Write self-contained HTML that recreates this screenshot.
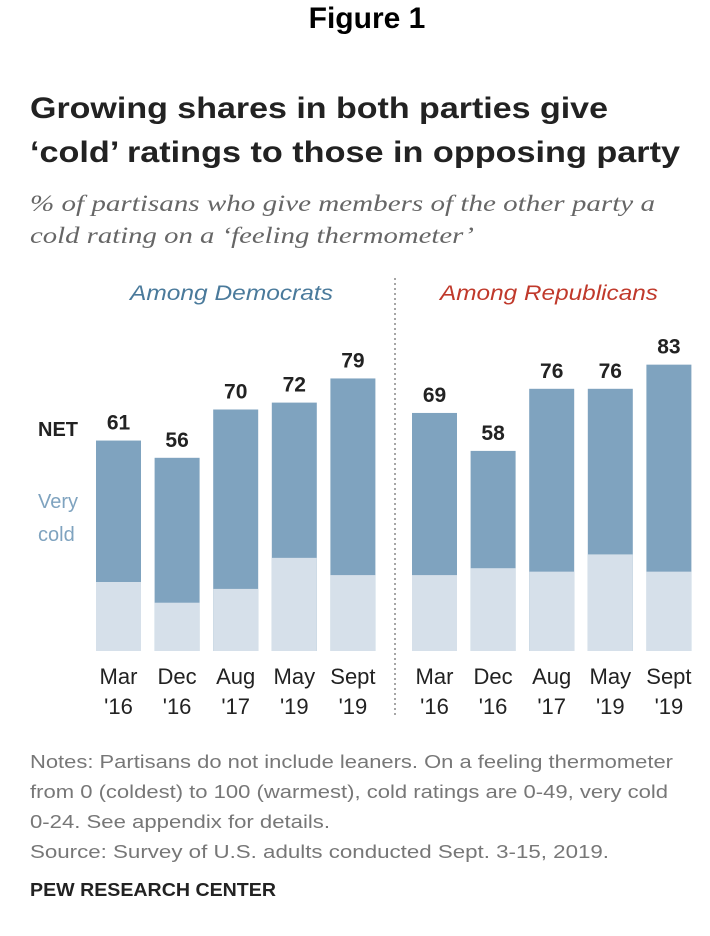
<!DOCTYPE html>
<html><head><meta charset="utf-8"><style>
body{margin:0;background:#fff;width:710px;height:931px;overflow:hidden;font-family:"Liberation Sans",sans-serif}
</style></head><body>
<svg width="710" height="931" xmlns="http://www.w3.org/2000/svg">
<text x="367" y="28" text-anchor="middle" font-size="30" font-weight="bold" fill="#000">Figure 1</text>
<text x="30" y="118" font-size="30" font-weight="bold" fill="#222" textLength="578" lengthAdjust="spacingAndGlyphs">Growing shares in both parties give</text>
<text x="30" y="162" font-size="30" font-weight="bold" fill="#222" textLength="650" lengthAdjust="spacingAndGlyphs">‘cold’ ratings to those in opposing party</text>
<text x="30" y="211" font-size="23" font-style="italic" fill="#666" font-family="Liberation Serif, serif" textLength="625" lengthAdjust="spacingAndGlyphs">% of partisans who give members of the other party a</text>
<text x="30" y="243" font-size="23" font-style="italic" fill="#666" font-family="Liberation Serif, serif" textLength="444" lengthAdjust="spacingAndGlyphs">cold rating on a ‘feeling thermometer’</text>
<text x="130" y="300" font-size="21" font-style="italic" fill="#4a7a9b" textLength="203" lengthAdjust="spacingAndGlyphs">Among Democrats</text>
<text x="440" y="300" font-size="21" font-style="italic" fill="#c0392b" textLength="218" lengthAdjust="spacingAndGlyphs">Among Republicans</text>
<line x1="395" y1="278" x2="395" y2="718" stroke="#888" stroke-dasharray="2,3" stroke-width="1.5"/>
<text x="38" y="436" font-size="20" font-weight="bold" fill="#222">NET</text>
<text x="38" y="508" font-size="20" fill="#7fa3bf">Very</text>
<text x="38" y="541" font-size="20" fill="#7fa3bf">cold</text>
<g id="bars"></g>
<text x="30" y="768" font-size="18" fill="#777" textLength="643" lengthAdjust="spacingAndGlyphs">Notes: Partisans do not include leaners. On a feeling thermometer</text>
<text x="30" y="798" font-size="18" fill="#777" textLength="638" lengthAdjust="spacingAndGlyphs">from 0 (coldest) to 100 (warmest), cold ratings are 0-49, very cold</text>
<text x="30" y="828" font-size="18" fill="#777" textLength="300" lengthAdjust="spacingAndGlyphs">0-24. See appendix for details.</text>
<text x="30" y="858" font-size="18" fill="#777" textLength="579" lengthAdjust="spacingAndGlyphs">Source: Survey of U.S. adults conducted Sept. 3-15, 2019.</text>
<text x="30" y="896" font-size="18" font-weight="bold" fill="#222" textLength="246" lengthAdjust="spacingAndGlyphs">PEW RESEARCH CENTER</text>
</svg>
<script>
const months=["Mar","Dec","Aug","May","Sept"];
const years=["'16","'16","'17","'19","'19"];
const demNet=[61,56,70,72,79];
const demVeryCold=[20,14,18,27,22];
const repNet=[69,58,76,76,83];
const repVeryCold=[22,24,23,28,23];
const base=651,scale=3.45,bw=45;
function y(v){return base-v*scale;}
const g=document.getElementById('bars');
const NS="http://www.w3.org/2000/svg";
function mk(t,a){const e=document.createElementNS(NS,t);for(const k in a)e.setAttribute(k,a[k]);g.appendChild(e);return e;}
function panel(x0,net,vc,name){
 for(let i=0;i<net.length;i++){
  const x=x0+i*58.6;
  const r=mk('rect',{x:x,y:y(net[i]),width:bw,height:net[i]*scale,fill:'#7fa3bf'});
  
  
  const r2=mk('rect',{x:x,y:y(vc[i]),width:bw,height:vc[i]*scale,fill:'#d6e0ea'});
  
  
  const t=mk('text',{x:x+bw/2,y:y(net[i])-11,'text-anchor':'middle','font-size':21,'font-weight':'bold',fill:'#222'});
  t.textContent=net[i];
  
  
  const m=mk('text',{x:x+bw/2,y:684,'text-anchor':'middle','font-size':22,fill:'#222'});
  m.textContent=months[i];
  
  
  const yr=mk('text',{x:x+bw/2,y:714,'text-anchor':'middle','font-size':22,fill:'#222'});
  yr.textContent=years[i];
  
  
 }
}
panel(96,demNet,demVeryCold,'democrats');
panel(412,repNet,repVeryCold,'republicans');
</script>
</body></html>
